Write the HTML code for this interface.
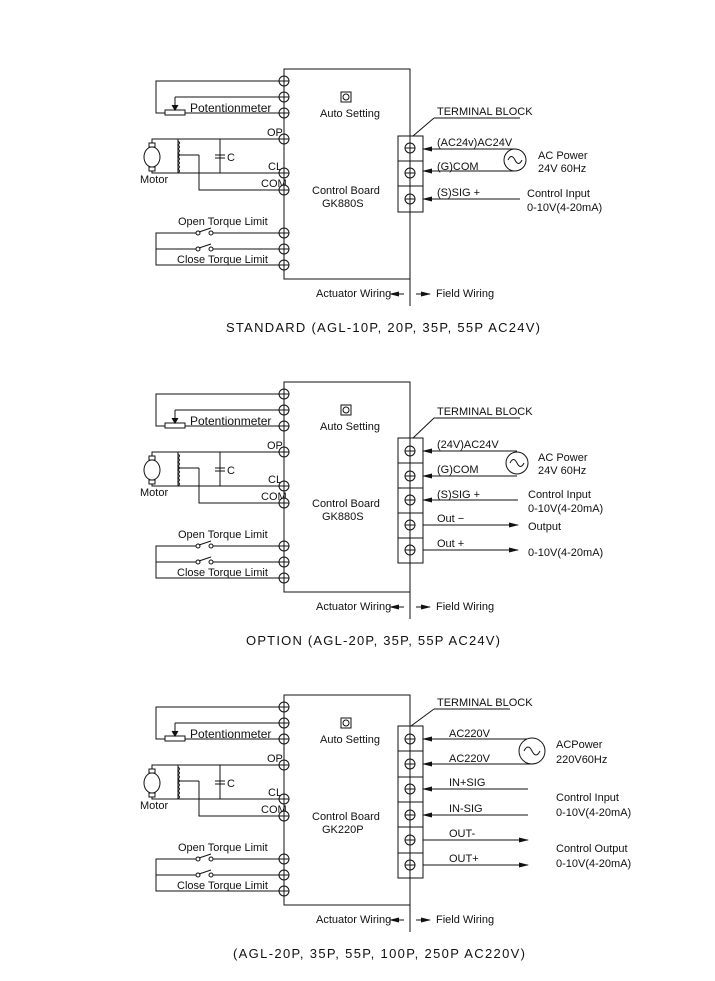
<!DOCTYPE html>
<html><head><meta charset="utf-8"><style>
html,body{margin:0;padding:0;background:#fff;}
svg{display:block;}
text{font-family:"Liberation Sans Narrow","Liberation Sans",sans-serif;font-size:11px;fill:#111;}
.cap{font-family:"Liberation Sans",sans-serif;font-size:13px;}
</style></head><body>
<svg width="715" height="981" viewBox="0 0 715 981" xmlns="http://www.w3.org/2000/svg" stroke="#111" stroke-width="1" fill="none">
<defs>
<marker id="ar" markerWidth="10" markerHeight="6" refX="9" refY="3" orient="auto" markerUnits="userSpaceOnUse"><path d="M0,0.5 L10,3 L0,5.5z" fill="#111" stroke="none"/></marker>
<g id="term"><circle r="5" fill="#fff"/><path d="M-5,0H5M0,-5V5"/></g>
<g id="tb"><circle r="5"/><path d="M-5,0H5M0,-5V5"/></g>
</defs>

<g id="left1">
<rect x="284" y="69" width="126" height="210"/>
<path d="M284,81H156V113H165M185,113H284M175,97H284M175,97V108"/>
<path d="M172,105L175,110L178,105" fill="#111"/>
<rect x="165" y="110" width="20" height="5"/>
<text x="190" y="112" stroke="none" style="font-size:12px">Potentionmeter</text>
<rect x="341" y="92" width="10" height="10"/><circle cx="346" cy="97" r="3"/>
<text x="320" y="117" stroke="none">Auto Setting</text>
<text x="312" y="194" stroke="none">Control Board</text>
<ellipse cx="152" cy="157" rx="8" ry="10"/>
<rect x="149" y="143" width="6" height="4"/><rect x="149" y="167" width="6" height="4"/>
<path d="M152,143V139H284M152,171V173H284M178,139V173M220,139V173M215,155H225M215,158H225M199,155H178M199,155V190H284"/>
<path d="M178,141q3,2 0,4q3,2 0,4q3,2 0,4q3,2 0,4q3,2 0,4q3,2 0,4q3,2 0,4q3,2 0,4"/>
<text x="227" y="161" stroke="none">C</text>
<text x="140" y="183" stroke="none">Motor</text>
<text x="267" y="136" stroke="none">OP</text>
<text x="268" y="170" stroke="none">CL</text>
<text x="261" y="187" stroke="none">COM</text>
<path d="M284,233H212M198,233H156V265H284M284,249H212M198,249H156"/>
<circle cx="198" cy="233" r="2" fill="#fff"/><circle cx="211" cy="233" r="2" fill="#fff"/><path d="M199,232L211,228"/>
<circle cx="198" cy="249" r="2" fill="#fff"/><circle cx="211" cy="249" r="2" fill="#fff"/><path d="M199,248L211,244"/>
<text x="178" y="225" stroke="none">Open Torque Limit</text>
<text x="177" y="263" stroke="none">Close Torque Limit</text>
<use href="#term" x="284" y="81"/><use href="#term" x="284" y="97"/><use href="#term" x="284" y="113"/>
<use href="#term" x="284" y="139"/><use href="#term" x="284" y="173"/><use href="#term" x="284" y="190"/>
<use href="#term" x="284" y="233"/><use href="#term" x="284" y="249"/><use href="#term" x="284" y="265"/>
<path d="M410,279V306"/>
<text x="316" y="297" stroke="none">Actuator Wiring</text>
<path d="M404,294H390" marker-end="url(#ar)"/>
<path d="M416,294H430" marker-end="url(#ar)"/>
<text x="436" y="297" stroke="none">Field Wiring</text>
</g>
<use href="#left1" y="313"/>
<use href="#left1" y="626"/>
<text x="322" y="207" stroke="none">GK880S</text>
<text x="322" y="520" stroke="none">GK880S</text>
<text x="322" y="833" stroke="none">GK220P</text>

<!-- SECTION 1 right -->
<text x="437" y="115" stroke="none">TERMINAL BLOCK</text>
<path d="M434,118H520M434,118L413,136"/>
<rect x="398" y="136" width="25" height="76"/><path d="M398,161H423M398,186H423"/>
<use href="#tb" x="410" y="148"/><use href="#tb" x="410" y="173"/><use href="#tb" x="410" y="199"/>
<path d="M515,149H423" marker-end="url(#ar)"/><path d="M515,171H423" marker-end="url(#ar)"/><path d="M520,199H423" marker-end="url(#ar)"/>
<circle cx="515" cy="160" r="11"/><path d="M508,160q3.5,-7 7,0t7,0"/>
<text x="437" y="146" stroke="none">(AC24v)AC24V</text>
<text x="437" y="170" stroke="none">(G)COM</text>
<text x="437" y="196" stroke="none">(S)SIG +</text>
<text x="538" y="159" stroke="none">AC Power</text>
<text x="538" y="172" stroke="none">24V 60Hz</text>
<text x="527" y="197" stroke="none">Control Input</text>
<text x="527" y="211" stroke="none">0-10V(4-20mA)</text>
<text x="226" y="332" class="cap" stroke="none" textLength="314" lengthAdjust="spacing">STANDARD (AGL-10P, 20P, 35P, 55P  AC24V)</text>

<!-- SECTION 2 right -->
<text x="437" y="415" stroke="none">TERMINAL BLOCK</text>
<path d="M434,418H520M434,418L413,438"/>
<rect x="398" y="438" width="25" height="125"/><path d="M398,463H423M398,488H423M398,513H423M398,538H423"/>
<use href="#tb" x="410" y="451"/><use href="#tb" x="410" y="476"/><use href="#tb" x="410" y="500"/><use href="#tb" x="410" y="525"/><use href="#tb" x="410" y="550"/>
<path d="M517,451H423" marker-end="url(#ar)"/><path d="M517,476H423" marker-end="url(#ar)"/><path d="M518,500H423" marker-end="url(#ar)"/>
<path d="M423,525H518" marker-end="url(#ar)"/><path d="M423,550H518" marker-end="url(#ar)"/>
<circle cx="517" cy="463" r="11"/><path d="M510,463q3.5,-7 7,0t7,0"/>
<text x="437" y="448" stroke="none">(24V)AC24V</text>
<text x="437" y="473" stroke="none">(G)COM</text>
<text x="437" y="498" stroke="none">(S)SIG +</text>
<text x="437" y="522" stroke="none">Out −</text>
<text x="437" y="547" stroke="none">Out +</text>
<text x="538" y="461" stroke="none">AC Power</text>
<text x="538" y="474" stroke="none">24V 60Hz</text>
<text x="528" y="498" stroke="none">Control Input</text>
<text x="528" y="512" stroke="none">0-10V(4-20mA)</text>
<text x="528" y="530" stroke="none">Output</text>
<text x="528" y="556" stroke="none">0-10V(4-20mA)</text>
<text x="246" y="645" class="cap" stroke="none" textLength="254" lengthAdjust="spacing">OPTION (AGL-20P, 35P, 55P  AC24V)</text>

<!-- SECTION 3 right -->
<text x="437" y="706" stroke="none">TERMINAL BLOCK</text>
<path d="M434,709H510M434,709L411,726"/>
<rect x="398" y="726" width="25" height="152"/><path d="M398,751H423M398,777H423M398,802H423M398,827H423M398,853H423"/>
<use href="#tb" x="410" y="739"/><use href="#tb" x="410" y="764"/><use href="#tb" x="410" y="789"/><use href="#tb" x="410" y="815"/><use href="#tb" x="410" y="840"/><use href="#tb" x="410" y="865"/>
<path d="M532,739H423" marker-end="url(#ar)"/><path d="M532,764H423" marker-end="url(#ar)"/><path d="M528,789H423" marker-end="url(#ar)"/><path d="M528,815H423" marker-end="url(#ar)"/>
<path d="M423,840H528" marker-end="url(#ar)"/><path d="M423,865H528" marker-end="url(#ar)"/>
<circle cx="532" cy="751" r="13" fill="#fff"/><path d="M524,751q4,-8 8,0t8,0"/>
<text x="449" y="737" stroke="none">AC220V</text>
<text x="449" y="762" stroke="none">AC220V</text>
<text x="449" y="786" stroke="none">IN+SIG</text>
<text x="449" y="812" stroke="none">IN-SIG</text>
<text x="449" y="837" stroke="none">OUT-</text>
<text x="449" y="862" stroke="none">OUT+</text>
<text x="556" y="748" stroke="none">ACPower</text>
<text x="556" y="763" stroke="none">220V60Hz</text>
<text x="556" y="801" stroke="none">Control Input</text>
<text x="556" y="816" stroke="none">0-10V(4-20mA)</text>
<text x="556" y="852" stroke="none">Control Output</text>
<text x="556" y="867" stroke="none">0-10V(4-20mA)</text>
<text x="233" y="958" class="cap" stroke="none" textLength="292" lengthAdjust="spacing">(AGL-20P, 35P, 55P, 100P, 250P  AC220V)</text>
</svg>
</body></html>
